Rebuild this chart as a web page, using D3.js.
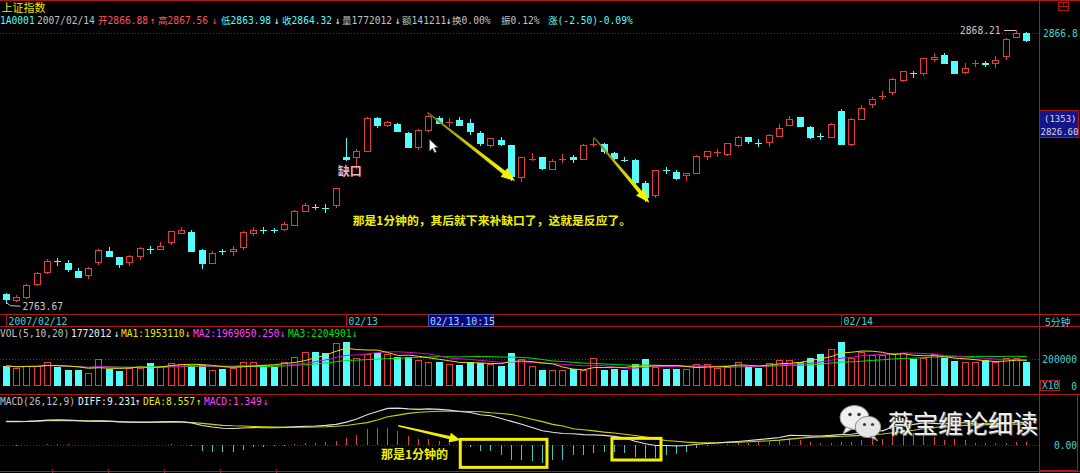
<!DOCTYPE html>
<html><head><meta charset="utf-8">
<script src="https://cdn.jsdelivr.net/npm/d3@7"></script>
<style>
html,body{margin:0;padding:0;background:#000;overflow:hidden}
svg{display:block}
text{font-family:"DejaVu Sans Mono","Noto Sans CJK SC",monospace;}
</style>
</head><body>
<svg id="chart" width="1080" height="473"></svg>
<script>
// ---------------- DATA ----------------
const candleOpen = [2767.01,2764.71,2765.86,2770.72,2775.32,2779.84,2778.89,2775.82,2774.40,2779.27,
2783.48,2781.18,2779.38,2781.68,2784.32,2784.13,2787.04,2790.49,2790.76,2783.75,
2778.89,2783.56,2783.48,2785.01,2790.38,2791.60,2791.60,2792.02,2793.44,2798.69,
2800.42,2799.92,2800.99,2819.61,2819.38,2821.91,2834.43,2831.64,2832.14,2828.80,
2823.44,2829.84,2834.32,2832.79,2833.67,2832.40,2828.80,2823.98,2826.01,2823.98,
2811.95,2818.50,2819.38,2814.90,2818.73,2819.61,2818.80,2824.24,2824.47,2821.14,
2818.73,2818.34,2809.61,2804.86,2814.59,2813.82,2812.52,2813.48,2819.99,2821.18,
2820.53,2824.09,2826.96,2825.05,2825.05,2827.61,2831.87,2834.70,2831.06,2827.46,
2827.04,2837.12,2824.59,2834.17,2839.91,2842.86,2844.51,2848.99,2851.64,2851.56,
2856.92,2858.68,2856.16,2852.17,2855.43,2855.62,2855.39,2858.19,2865.58,2866.88];
const candleClose = [2764.98,2765.74,2770.57,2775.17,2779.54,2779.69,2776.59,2773.41,2776.97,2783.75,
2781.45,2778.39,2781.45,2784.52,2784.17,2785.40,2791.03,2791.53,2783.48,2778.89,
2782.72,2783.41,2784.06,2790.76,2791.53,2791.45,2791.45,2793.71,2798.92,2800.99,
2800.26,2799.76,2807.50,2818.61,2821.79,2834.43,2831.64,2832.90,2829.57,2823.44,
2829.95,2835.20,2832.63,2833.02,2831.87,2829.57,2824.97,2826.66,2824.36,2812.21,
2819.38,2818.73,2815.28,2818.08,2818.92,2818.80,2824.17,2824.44,2821.91,2818.92,
2818.23,2809.80,2804.28,2814.32,2814.44,2811.45,2813.29,2819.99,2821.68,2821.37,
2824.74,2827.27,2825.81,2824.90,2827.84,2830.53,2834.05,2831.37,2827.27,2827.31,
2832.14,2824.36,2834.05,2838.27,2841.83,2843.05,2849.49,2852.33,2851.48,2857.31,
2857.80,2855.39,2851.56,2853.47,2855.58,2855.01,2856.65,2864.70,2866.82,2864.32];
const candleHigh = [2767.39,2766.51,2770.95,2775.44,2780.30,2780.69,2780.03,2776.97,2777.47,2784.13,
2785.01,2781.18,2781.95,2784.90,2785.40,2786.93,2791.03,2792.56,2791.53,2784.13,
2783.37,2784.25,2785.40,2791.26,2792.56,2792.56,2792.29,2794.48,2799.19,2801.76,
2801.49,2801.37,2807.73,2826.89,2822.56,2834.93,2834.70,2833.40,2832.63,2829.07,
2830.11,2835.47,2835.20,2834.32,2834.70,2833.94,2829.57,2826.89,2827.04,2824.21,
2819.61,2821.14,2819.61,2818.84,2820.53,2820.14,2824.36,2826.89,2824.74,2821.52,
2819.61,2818.84,2810.18,2814.63,2815.78,2814.51,2813.48,2820.26,2821.91,2822.44,
2824.97,2827.54,2826.96,2826.27,2828.11,2832.14,2835.32,2834.93,2831.48,2828.57,
2832.40,2837.77,2834.32,2839.30,2842.59,2844.78,2849.76,2852.56,2852.56,2857.54,
2859.22,2859.22,2856.27,2855.39,2856.65,2856.16,2858.19,2864.97,2868.21,2867.56];
const candleLow = [2763.67,2764.14,2765.59,2770.46,2775.05,2778.23,2775.94,2773.41,2773.25,2778.39,
2781.45,2777.47,2778.12,2780.53,2782.83,2784.13,2786.05,2790.49,2783.48,2777.08,
2778.89,2782.33,2782.06,2784.25,2789.61,2790.38,2790.65,2791.41,2793.44,2798.69,
2799.46,2798.54,2800.22,2818.23,2815.16,2821.91,2831.10,2831.37,2829.34,2823.44,
2822.67,2829.34,2832.40,2831.37,2831.64,2828.19,2823.98,2823.71,2823.98,2810.68,
2810.30,2818.34,2815.01,2814.78,2817.69,2817.62,2818.73,2823.71,2820.91,2818.61,
2817.96,2809.65,2802.64,2804.28,2813.25,2811.18,2810.80,2813.25,2818.73,2819.99,
2820.26,2823.82,2824.67,2823.71,2823.75,2827.54,2831.64,2831.37,2826.66,2826.27,
2827.04,2824.36,2823.98,2834.17,2838.53,2841.60,2843.63,2848.72,2850.26,2850.79,
2856.39,2855.39,2851.56,2851.56,2854.47,2854.47,2853.86,2856.92,2865.58,2863.98];
// volume in chart units (x10)
const volume = [150700,137860,150700,150000,178570,145710,121430,121430,96430,200000,
125710,114290,137860,137860,171430,150000,171430,164290,157140,157140,
121430,125710,137860,178570,182860,150000,145710,182860,219290,257140,
251430,250000,322860,332860,207140,236430,244290,236430,219290,219290,
195000,182860,182860,165000,157140,182860,175000,165000,152860,244290,
200000,150000,118570,118570,118570,128570,118570,207140,118570,128570,
121430,165000,200000,145710,128570,128570,125710,162860,162860,137860,
145710,178570,150000,137860,171430,195000,195000,182860,212140,236430,
273570,330000,212140,256430,231430,231430,244290,244290,200000,212140,
236430,207140,187140,177860,177860,195000,177860,207140,207140,177201];
const diffValues = [9.6,9.5,9.6,9.8,10.1,10.2,10.1,9.9,9.7,9.8,9.7,9.4,9.3,9.3,9.3,9.4,9.5,9.4,9.0,
7.9,7.3,6.8,6.7,6.9,7.1,7.0,7.0,7.1,7.4,7.6,7.7,8.0,8.4,9.3,10.6,12.3,13.6,14.9,15.0,14.7,14.5,14.7,14.5,14.2,13.6,13.2,12.3,11.9,
10.8,9.6,8.4,7.1,5.8,5.2,4.7,4.6,4.2,4.1,3.9,3.5,2.85,1.5,0.5,-0.2,-0.2,-0.4,-0.2,0.3,0.6,0.8,
1.15,1.45,1.8,2.2,2.6,3.05,3.9,3.85,3.7,3.65,3.9,4.25,4.4,4.95,5.9,5.75,7.4,7.9,8.4,9.0,
8.8,8.55,9.05,9.05,8.55,8.65,8.75,8.95,9.2,9.231];
const deaValues = [9.5,9.6,9.55,9.7,9.85,9.9,9.9,9.85,9.75,9.7,9.65,9.5,9.35,9.25,9.25,9.3,9.35,9.35,9.15,
8.8,8.4,8.0,7.8,7.7,7.55,7.45,7.3,7.3,7.25,7.25,7.3,7.4,7.6,7.95,8.55,9.1,10.2,11.5,12.15,12.85,13.3,13.5,13.7,13.7,13.7,13.65,13.5,13.1,
12.8,12.4,11.5,10.5,9.5,8.4,7.7,6.6,6.2,5.75,5.25,4.85,4.4,3.85,3.2,2.5,1.8,1.5,1.15,0.95,0.85,0.9,
1.0,1.1,1.3,1.5,1.7,2.0,2.4,2.8,3.1,3.3,3.4,3.55,3.7,3.9,4.2,4.5,5.0,5.5,6.0,6.6,
7.1,7.5,7.8,8.0,8.2,8.3,8.4,8.45,8.5,8.557];
const macdValues = [0.1,-0.3,0.1,0.2,0.5,0.6,0.4,0.1,-0.1,0.2,0.1,-0.2,-0.1,0.1,0.1,0.2,0.3,0.1,-0.3,
-2.4,-2.7,-2.7,-2.7,-2.0,-0.9,-0.9,-0.6,-0.4,0.3,0.7,0.8,1.2,1.6,2.7,4.1,6.4,6.8,6.8,5.7,3.7,2.4,2.4,1.6,1.0,-0.2,-0.9,-2.4,-2.4,
-4.0,-6.0,-6.0,-6.7,-7.4,-6.0,-6.0,-4.0,-4.0,-3.3,-2.7,-2.7,-3.1,-4.7,-5.4,-5.4,-4.0,-3.8,-2.7,-1.3,-0.5,-0.2,
0.3,0.7,1.0,1.4,1.8,2.1,3.0,2.1,1.2,0.7,1.0,1.4,1.4,2.1,3.4,2.5,4.8,4.8,4.8,4.8,
3.4,2.1,2.5,2.1,0.7,0.7,0.7,1.0,1.4,1.349];
const dateTickIndex = [0, 33, 81];
const dateTickLabels = ["2007/02/12", "02/13", "02/14"];
const cursorIndex = 41;
const cursorLabel = "02/13,10:15";
const prevClose = 2866.82;
const volTickValues = [0, 200000];
const volTickLabels = ["0", "200000"];
const macdTickLabels = ["0.00"];
const priceAxisLabel = "2866.8";
const headerTitle = "上证指数";
const headerTokens = [
 ["1A0001","c"],["2007/02/14","g"],["开2866.88","r"],["↑","r"],["高2867.56","r"],["↓","r"],
 ["低2863.98","c"],["↓","w"],["收2864.32","c"],["↓","w"],["量1772012","g"],["↓","w"],
 ["额141211","g"],["↓","w"],["换0.00%","g"],["振0.12%","g"],["涨(-2.50)-0.09%","c"]];
const headerX = [0,37,98,150,158,212,221,274,282,335,342,395,402,446,452,501,548];
const volTokens = [["VOL(5,10,20)","g"],["1772012","w"],["↓","w"],["MA1:1953110","y"],["↓","y"],
 ["MA2:1969050.250","m"],["↓","m"],["MA3:2204901","gr"],["↓","gr"]];
const volX = [0,71,114,121,185,193,280,288,352];
const macdTokens = [["MACD(26,12,9)","g"],["DIFF:9.231","w"],["↑","w"],["DEA:8.557","y"],["↑","y"],["MACD:1.349","m"],["↓","m"]];
const macdX = [0,78,135,143,196,204,263];
// annotations (in data space)
const gapLabel = {text:"缺口", i:32.2, p:2812.2};
const noteMain = {text:"那是1分钟的，其后就下来补缺口了，这就是反应了。", i:33.66, p:2793.6};
const noteMacd = {text:"那是1分钟的", i:36.4, v:-5.8};
const priceArrows = [{i1:40.9,p1:2836.6,i2:49.4,p2:2810.3},{i1:57.06,p1:2827.0,i2:62.42,p2:2802.0}];
const macdArrow = {i1:38.08,v1:7.85,i2:44.1,v2:2.0};
const macdBoxes = [{i1:44.09,i2:52.5,v1:2.3,v2:-9.1},{i1:58.8,i2:63.56,v1:2.7,v2:-6.1}];
const cursorPointer = {i:41.1, p:2826.3};
const cursorBox = ["(1353)","2826.60"];
const watermark = "薇宝缠论细读";

// ---------------- SETUP ----------------
const svg = d3.select("#chart");
const COL = {r:"#ff5454", c:"#54fcfc", g:"#c0c0c0", w:"#f0f0f0", y:"#e8e800", m:"#ff40ff", gr:"#00e000"};
const UP = "#e83c3c", DOWN = "#54fcfc", BORDER = "#b01818", AXIS = "#48d0d0";
const N = candleOpen.length;
const idx = d3.range(N);
const x = d3.scaleLinear().domain([0, N-1]).range([5.7, 1026.4]);
const yP = d3.scaleLinear().domain([2763.67, 2866.88]).range([302.7, 33.3]);
const yV = d3.scaleLinear().domain([0, 200000]).range([386, 359.3]);
const yM = d3.scaleLinear().domain([0, 9.231]).range([445, 422.3]);
const cx = i => Math.round(x(i)) + 0.5;

const candles = idx.map(i => ({i, o:candleOpen[i], c:candleClose[i], h:candleHigh[i], l:candleLow[i], v:volume[i]}));
const isUp = d => d.c >= d.o;

// ---------------- FRAME ----------------
const frame = svg.append("g").attr("shape-rendering","crispEdges").attr("stroke",BORDER).attr("stroke-width",1);
[0.5, 314.5, 326.5, 394.5, 471.5].forEach(yy => frame.append("line").attr("x1",0).attr("x2",1080).attr("y1",yy).attr("y2",yy));
frame.append("line").attr("x1",1039.5).attr("x2",1039.5).attr("y1",0).attr("y2",473);
frame.append("rect").attr("x",1039.5).attr("y",394.5).attr("width",38).attr("height",76).attr("fill","none");
// small icon top right
frame.append("rect").attr("x",1058.5).attr("y",2.5).attr("width",10).attr("height",8).attr("fill","none");
frame.append("line").attr("x1",1058.5).attr("x2",1068.5).attr("y1",6.5).attr("y2",6.5);
frame.append("line").attr("x1",1063.5).attr("x2",1063.5).attr("y1",2.5).attr("y2",6.5);
[52,108,164,220,276].forEach(t => frame.append("line").attr("x1",t+0.5).attr("x2",t+0.5).attr("y1",469).attr("y2",473));

// dotted reference lines
const dots = svg.append("g").attr("stroke","#a01010").attr("stroke-dasharray","1,2").attr("shape-rendering","crispEdges");
dots.append("line").attr("x1",0).attr("x2",1039).attr("y1",Math.round(yP(prevClose))+0.5).attr("y2",Math.round(yP(prevClose))+0.5);
dots.append("line").attr("x1",0).attr("x2",1039).attr("y1",Math.round(yV(200000))+0.5).attr("y2",Math.round(yV(200000))+0.5);
dots.append("line").attr("x1",0).attr("x2",1039).attr("y1",Math.round(yM(0))+0.5).attr("y2",Math.round(yM(0))+0.5);

// ---------------- HEADER TEXTS ----------------
svg.append("text").attr("x",1.5).attr("y",12).attr("font-size",11).attr("fill","#e8e800")
  .style("font-family","'Noto Sans CJK SC'").text(headerTitle);
function tokenRow(tokens, xs, yb){
  svg.append("g").selectAll("text").data(tokens).join("text")
    .attr("x",(d,k)=>xs[k]).attr("y",yb).attr("font-size",9.6)
    .attr("fill",d=>COL[d[1]]).text(d=>d[0]);
}
tokenRow(headerTokens, headerX, 23.5);
tokenRow(volTokens, volX, 336.5);
tokenRow(macdTokens, macdX, 404.5);

// ---------------- DATE STRIP ----------------
const ds = svg.append("g");
ds.selectAll("line").data(dateTickIndex).join("line")
  .attr("x1",d=>cx(d)).attr("x2",d=>cx(d)).attr("y1",314).attr("y2",327)
  .attr("stroke",BORDER).attr("shape-rendering","crispEdges");
ds.selectAll("text").data(dateTickIndex).join("text")
  .attr("x",d=>cx(d)+2).attr("y",324.5).attr("font-size",9.8).attr("fill",AXIS)
  .text((d,k)=>dateTickLabels[k]);
ds.append("rect").attr("x",cx(cursorIndex)-0.5).attr("y",314.5).attr("width",65).attr("height",12)
  .attr("fill","#08087e").attr("stroke","#5050a0").attr("shape-rendering","crispEdges");
ds.append("text").attr("x",cx(cursorIndex)+1.5).attr("y",324.5).attr("font-size",9.8).attr("fill","#a8d0ff").text(cursorLabel);

// right axis
const ra = svg.append("g").attr("font-size",9.6).attr("fill",AXIS);
ra.append("text").attr("x",1043).attr("y",yP(prevClose)+3.8).text(priceAxisLabel);
ra.append("text").attr("x",1045).attr("y",325.5).style("font-family","'Noto Sans CJK SC'").attr("font-size",10).text("5分钟");
ra.selectAll("text.v").data(volTickValues).join("text").attr("class","v")
  .attr("x",1077).attr("text-anchor","end").attr("y",d=>yV(d)+3.5).text((d,k)=>volTickLabels[k]);
svg.append("rect").attr("x",1040.5).attr("y",380.5).attr("width",19).attr("height",10).attr("fill","#000")
  .attr("stroke",BORDER).attr("shape-rendering","crispEdges");
svg.append("text").attr("x",1042).attr("y",389).attr("font-size",9.6).attr("fill",AXIS).text("X10");
ra.append("text").attr("x",1077).attr("text-anchor","end").attr("y",yM(0)+3.5).text(macdTickLabels[0]);
// cursor value box
svg.append("rect").attr("x",1039.5).attr("y",110.5).attr("width",39).attr("height",27).attr("fill","#14148c")
  .attr("stroke",BORDER).attr("shape-rendering","crispEdges");
svg.append("text").attr("x",1044).attr("y",122).attr("font-size",9).attr("fill","#d8d8d8").text(cursorBox[0]);
svg.append("text").attr("x",1040.5).attr("y",135).attr("font-size",9).attr("fill","#d8d8d8").text(cursorBox[1]);

// ---------------- CANDLES ----------------
const cg = svg.append("g").attr("shape-rendering","crispEdges");
cg.selectAll("line.wick").data(candles).join("line").attr("class","wick")
  .attr("x1",d=>cx(d.i)).attr("x2",d=>cx(d.i))
  .attr("y1",d=>Math.round(yP(d.h))).attr("y2",d=>Math.round(yP(d.l))+1)
  .attr("stroke",d=>isUp(d)?UP:DOWN);
const bodies = candles.filter(d => Math.abs(yP(d.o)-yP(d.c)) >= 1.5);
const crosses = candles.filter(d => Math.abs(yP(d.o)-yP(d.c)) < 1.5);
cg.selectAll("rect.body").data(bodies).join("rect").attr("class","body")
  .attr("x",d=>cx(d.i)-3).attr("width",6)
  .attr("y",d=>Math.round(yP(Math.max(d.o,d.c)))+0.5)
  .attr("height",d=>Math.round(yP(Math.min(d.o,d.c)))-Math.round(yP(Math.max(d.o,d.c))))
  .attr("fill",d=>isUp(d)?"#000":DOWN).attr("stroke",d=>isUp(d)?UP:DOWN);
cg.selectAll("line.cross").data(crosses).join("line").attr("class","cross")
  .attr("x1",d=>cx(d.i)-3.5).attr("x2",d=>cx(d.i)+3.5)
  .attr("y1",d=>Math.round(yP((d.o+d.c)/2))+0.5).attr("y2",d=>Math.round(yP((d.o+d.c)/2))+0.5)
  .attr("stroke",d=>isUp(d)?UP:DOWN);

// high / low markers
const hiI = d3.maxIndex(candleHigh), loI = d3.minIndex(candleLow);
const hiY = yP(candleHigh[hiI]), loY = yP(candleLow[loI]);
svg.append("line").attr("x1",cx(hiI)-13).attr("x2",cx(hiI)-1).attr("y1",Math.round(hiY)+0.5).attr("y2",Math.round(hiY)+0.5)
  .attr("stroke","#c8c8c8").attr("shape-rendering","crispEdges");
svg.append("text").attr("x",cx(hiI)-16).attr("y",hiY+4).attr("text-anchor","end").attr("font-size",9.6).attr("fill","#c8c8c8")
  .text(candleHigh[hiI].toFixed(2));
svg.append("polyline").attr("points",[[cx(loI),loY],[cx(loI)+4,loY+3],[cx(loI)+14,loY+3.5]].map(p=>p.join(",")).join(" "))
  .attr("fill","none").attr("stroke","#c8c8c8");
svg.append("text").attr("x",cx(loI)+16).attr("y",loY+7).attr("font-size",9.6).attr("fill","#c8c8c8")
  .text(candleLow[loI].toFixed(2));

// ---------------- VOLUME ----------------
const vg = svg.append("g").attr("shape-rendering","crispEdges");
vg.selectAll("rect").data(candles).join("rect")
  .attr("x",d=>cx(d.i)-3).attr("width",6)
  .attr("y",d=>Math.round(yV(d.v))+0.5)
  .attr("height",d=>Math.round(yV(0))-Math.round(yV(d.v))-1)
  .attr("fill",d=>isUp(d)?"#000":DOWN).attr("stroke",d=>isUp(d)?UP:DOWN);
function rollingMean(arr, n){ return arr.map((_,i)=>d3.mean(arr.slice(Math.max(0,i-n+1), i+1))); }
const ma5 = rollingMean(volume,5), ma10 = rollingMean(volume,10), ma20 = rollingMean(volume,20);
const vline = d3.line().x((d,i)=>x(i)+0.5).y(d=>yV(d));
[[ma20,COL.gr],[ma10,"#e000e0"],[ma5,"#e0e000"]].forEach(([s,c])=>
  svg.append("path").attr("d",vline(s)).attr("fill","none").attr("stroke",c).attr("stroke-width",1));

// ---------------- MACD ----------------
const mg = svg.append("g").attr("shape-rendering","crispEdges");
mg.selectAll("line").data(macdValues).join("line")
  .attr("x1",(d,i)=>cx(i)).attr("x2",(d,i)=>cx(i))
  .attr("y1",yM(0)).attr("y2",d=>yM(d))
  .attr("stroke",d=>d>=0?"#e04040":"#40c8c8");
const mline = d3.line().x((d,i)=>x(i)+0.5).y(d=>yM(d));
svg.append("path").attr("d",mline(deaValues)).attr("fill","none").attr("stroke","#d0d000").attr("stroke-width",1.1);
svg.append("path").attr("d",mline(diffValues)).attr("fill","none").attr("stroke","#e0e0e0").attr("stroke-width",1.1);

// ---------------- ANNOTATIONS ----------------
const defs = svg.append("defs");
function arrowPoly(x1,y1,x2,y2,w0,w1,hl,hw){
  const dx=x2-x1, dy=y2-y1, L=Math.hypot(dx,dy), ux=dx/L, uy=dy/L, nx=-uy, ny=ux;
  const bx=x2-ux*hl, by=y2-uy*hl;
  return [[x1+nx*w0,y1+ny*w0],[bx+nx*w1,by+ny*w1],[bx+nx*hw,by+ny*hw],[x2,y2],
          [bx-nx*hw,by-ny*hw],[bx-nx*w1,by-ny*w1],[x1-nx*w0,y1-ny*w0]].map(p=>p.join(",")).join(" ");
}
priceArrows.forEach((a,k)=>{
  const x1=x(a.i1), y1=yP(a.p1), x2=x(a.i2), y2=yP(a.p2);
  const g = defs.append("linearGradient").attr("id","ag"+k).attr("gradientUnits","userSpaceOnUse")
    .attr("x1",x1).attr("y1",y1).attr("x2",x2).attr("y2",y2);
  g.append("stop").attr("offset",0).attr("stop-color","#6a6a08");
  g.append("stop").attr("offset",0.45).attr("stop-color","#c8c800");
  g.append("stop").attr("offset",1).attr("stop-color","#ffff00");
  svg.append("polygon").attr("points",arrowPoly(x1,y1,x2,y2,0.7,2.0,14,5.5)).attr("fill",`url(#ag${k})`);
});
svg.append("polygon").attr("points",arrowPoly(x(macdArrow.i1),yM(macdArrow.v1),x(macdArrow.i2),yM(macdArrow.v2),0.8,1.6,11,5))
  .attr("fill","#f0f000");
macdBoxes.forEach(b=>{
  svg.append("rect").attr("x",x(b.i1)).attr("y",yM(b.v1)).attr("width",x(b.i2)-x(b.i1)).attr("height",yM(b.v2)-yM(b.v1))
    .attr("fill","none").attr("stroke","#f0f000").attr("stroke-width",3);
});
const cjk = "'Noto Sans CJK SC'";
svg.append("text").attr("x",x(gapLabel.i)).attr("y",yP(gapLabel.p)).attr("font-size",12).attr("font-weight","bold")
  .style("font-family",cjk).attr("fill","#f4b0bc").text(gapLabel.text);
svg.append("text").attr("x",x(noteMain.i)).attr("y",yP(noteMain.p)).attr("font-size",11.8).attr("font-weight","bold")
  .style("font-family",cjk).attr("fill","#f0f000").text(noteMain.text);
svg.append("text").attr("x",x(noteMacd.i)).attr("y",yM(noteMacd.v)).attr("font-size",12).attr("font-weight","bold")
  .style("font-family",cjk).attr("fill","#f0f000").text(noteMacd.text);

// mouse pointer
const px = x(cursorPointer.i), py = yP(cursorPointer.p);
svg.append("polygon").attr("points",[[0,0],[0,12],[3,9.2],[5.2,13.5],[7,12.6],[4.9,8.4],[8.6,8.4]].map(p=>[px+p[0],py+p[1]].join(",")).join(" "))
  .attr("fill","#ffffff").attr("stroke","#404040").attr("stroke-width",0.6);

// watermark
const wm = svg.append("g");
wm.append("ellipse").attr("cx",854.5).attr("cy",417.5).attr("rx",14.5).attr("ry",12).attr("fill","#f0f0f0").attr("stroke","#9a9a9a");
wm.append("path").attr("d","M846,427 L843,434 L852,429 Z").attr("fill","#f0f0f0").attr("stroke","#9a9a9a");
wm.append("ellipse").attr("cx",868).attr("cy",427).attr("rx",12.8).attr("ry",10.7).attr("fill","#e6e6e6").attr("stroke","#8a8a8a");
wm.append("path").attr("d","M874,436 L878,441 L870,437 Z").attr("fill","#e6e6e6").attr("stroke","#8a8a8a");
[[850,414.5,1.8],[859,414.5,1.8],[864.5,424.5,1.6],[872.5,424.5,1.6]].forEach(e=>
  wm.append("circle").attr("cx",e[0]).attr("cy",e[1]).attr("r",e[2]).attr("fill","#3a3a3a"));
wm.append("text").attr("x",889).attr("y",434).attr("font-size",25).style("font-family",cjk)
  .attr("fill","#707070").text(watermark);
wm.append("text").attr("x",888).attr("y",433).attr("font-size",25).style("font-family",cjk)
  .attr("fill","#f2f2f2").text(watermark);
</script>
</body></html>
